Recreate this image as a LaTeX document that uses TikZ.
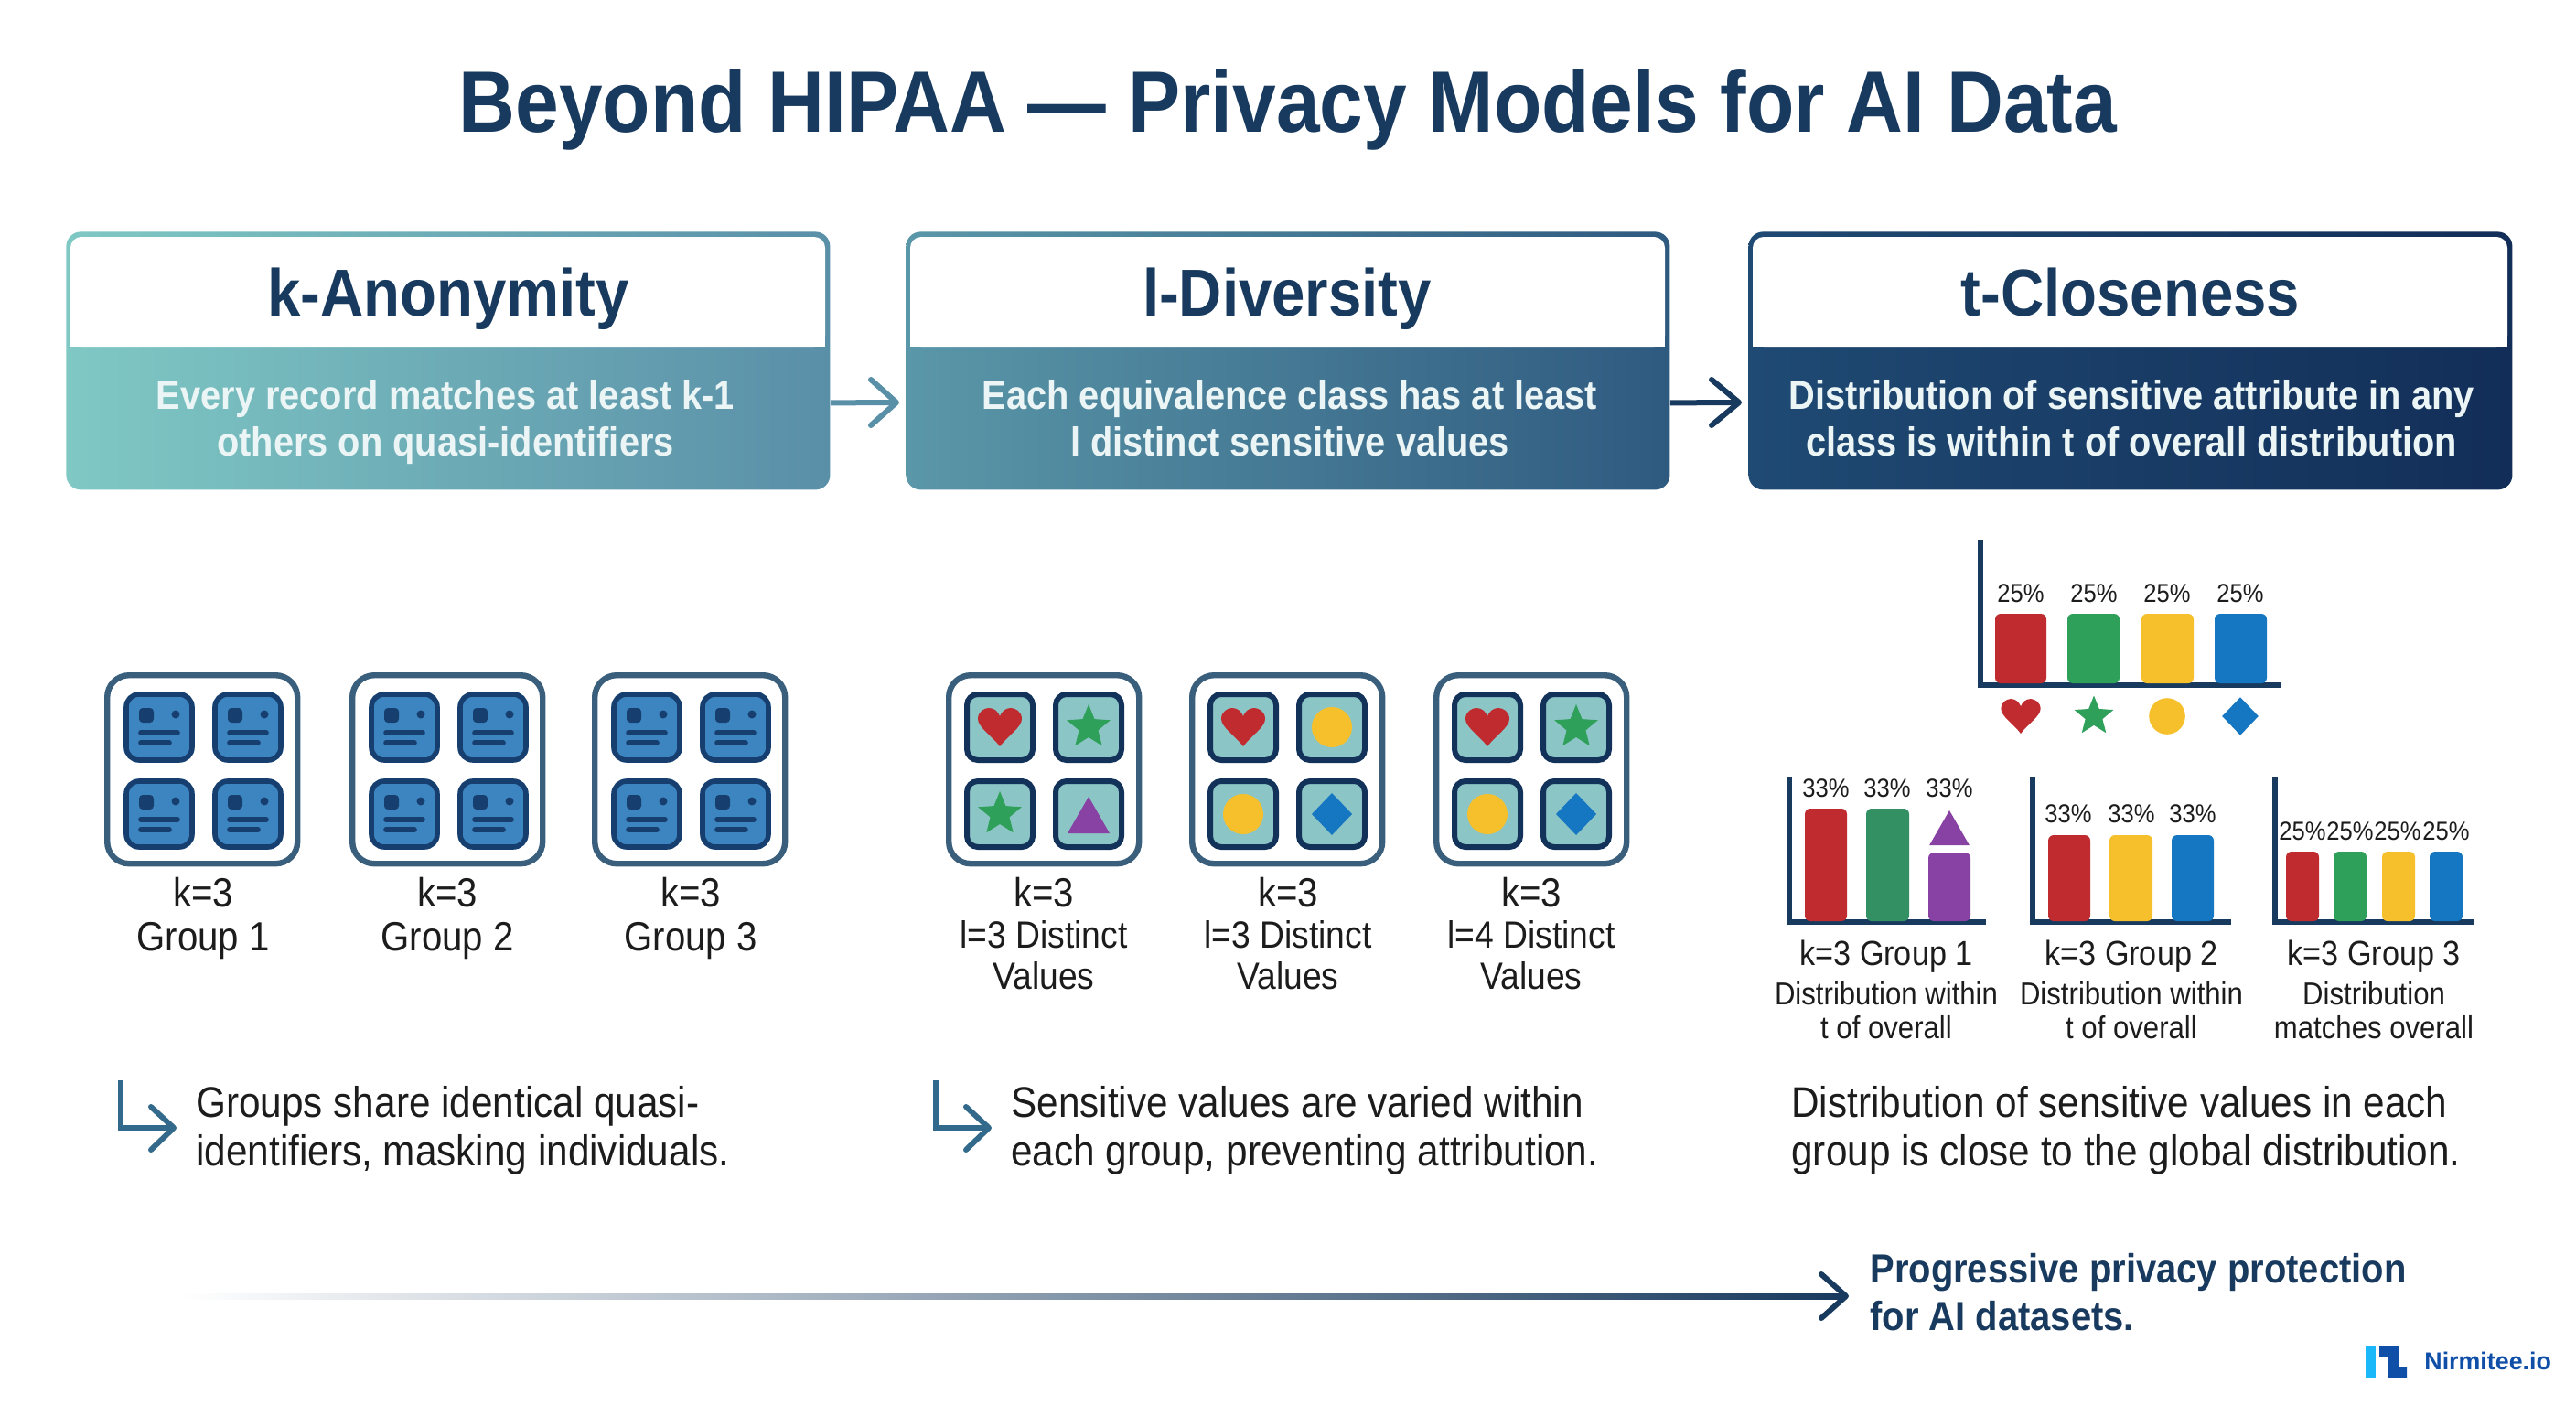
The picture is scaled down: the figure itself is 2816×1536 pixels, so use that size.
\documentclass[tikz,border=0pt]{standalone}
\usepackage{fontspec}
\setmainfont[FakeStretch=0.9]{Liberation Sans}
\newfontfamily\logofont{Liberation Sans}
\usetikzlibrary{positioning}
\definecolor{navy}{HTML}{183A5E}
\definecolor{inkc}{HTML}{1C1C1C}
\definecolor{framec}{HTML}{3A5F7D}
\definecolor{elbowc}{HTML}{336A8C}
\definecolor{cardline}{HTML}{163F70}
\definecolor{cardfill}{HTML}{3D85C0}
\definecolor{tealfill}{HTML}{8CC5C5}
\definecolor{redc}{HTML}{C02B30}
\definecolor{greenc}{HTML}{2FA05A}
\definecolor{yellowc}{HTML}{F6C02D}
\definecolor{bluec}{HTML}{1576C2}
\definecolor{purplec}{HTML}{8742A4}
\definecolor{grada}{HTML}{7FC8C4}
\definecolor{gradb}{HTML}{5A8FA8}
\definecolor{gradc}{HTML}{5A97A8}
\definecolor{gradd}{HTML}{2F5A80}
\definecolor{grade}{HTML}{1F4A73}
\definecolor{gradf}{HTML}{122E58}
\definecolor{logoblue}{HTML}{0F4FA8}
\definecolor{logocyan}{HTML}{1AB8F8}
\tikzset{
  panel/.style={shape=rectangle,rounded corners=8pt,minimum width=417.5pt,minimum height=141pt,anchor=north west},
  paneltitle/.style={anchor=base,text=navy,font=\fontsize{36.3}{37}\selectfont\bfseries},
  panelbody/.style={anchor=base,align=center,text=white!92!teal,font=\fontsize{22.1}{25.5}\selectfont\bfseries},
  groupframe/.style={shape=rectangle,draw=framec,line width=3.2pt,rounded corners=12pt,minimum width=104pt,minimum height=103pt,anchor=north west,fill=white},
  grouplabel/.style={anchor=base,align=center,text=inkc,font=\fontsize{22.3}{23}\selectfont},
  distlabel/.style={grouplabel,font=\fontsize{20.7}{22.5}\selectfont},
  desc/.style={anchor=base west,align=left,inner sep=0pt,text=inkc,font=\fontsize{23.5}{26.5}\selectfont},
  pct/.style={anchor=base,inner sep=0pt,text=inkc,font=\fontsize{14.2}{15}\selectfont},
  chartcap/.style={anchor=base,align=center,text=inkc,font=\fontsize{19}{19}\selectfont},
  capsmall/.style={anchor=base,align=center,text=inkc,font=\fontsize{17.3}{18.5}\selectfont},
  openhead/.style={line width=3pt,line cap=round,line join=round},
  axisline/.style={navy,line width=2.6pt},
  record/.pic={
    \draw[fill=cardfill,draw=cardline,line width=2.8pt,rounded corners=7pt] (2,2) rectangle (74,74);
    \fill[cardline,rounded corners=2pt] (16,17) rectangle (32,33);
    \fill[cardline] (56,24) circle (4.5);
    \draw[cardline,line width=2.8pt,line cap=round] (18,44) -- (58,44);
    \draw[cardline,line width=2.8pt,line cap=round] (18,55) -- (49,55);
  },
  valuecard/.pic={
    \draw[fill=tealfill,draw=cardline!80!black,line width=3pt,rounded corners=6pt] (2,2) rectangle (74,74);
  },
  heart/.pic={
    \fill[redc] (0,21) .. controls (-8,10) and (-24,0) .. (-24,-9) .. controls (-24,-17) and (-17,-21) .. (-12,-21)
      .. controls (-6,-21) and (-2,-17) .. (0,-12) .. controls (2,-17) and (6,-21) .. (12,-21)
      .. controls (17,-21) and (24,-17) .. (24,-9) .. controls (24,0) and (8,10) .. (0,21) -- cycle;
  },
  starmark/.pic={
    \fill[greenc] (-90:25) -- (-54:11) -- (-18:25) -- (18:11) -- (54:25) -- (90:11) -- (126:25) -- (162:11) -- (198:25) -- (234:11) -- cycle;
  },
  dotmark/.pic={\fill[yellowc] (0,0) circle (22);},
  diamondmark/.pic={\fill[bluec] (0,-23) -- (22,0) -- (0,23) -- (-22,0) -- cycle;},
  trianglemark/.pic={\fill[purplec] (0,-20) -- (23,20) -- (-23,20) -- cycle;},
}
\newcommand{\chartbar}[4]{\fill[#1,rounded corners=3pt] (#2,1007) -- (#2,#4) -- (#3,#4) -- (#3,1007) -- cycle;}
\begin{document}
\begin{tikzpicture}[x=0.5pt,y=-0.5pt]
\useasboundingbox (0,0) rectangle (2816,1536);
% title
\node (title) at (1408,145) [anchor=base,text=navy,font=\fontsize{47.6}{48}\selectfont\bfseries] {Beyond HIPAA --- Privacy Models for AI Data};
% panels
\node (kpanel) at (72,253) [panel,left color=grada,right color=gradb] {};
\node (lpanel) at (990,253) [panel,left color=gradc,right color=gradd] {};
\node (tpanel) at (1911,253) [panel,left color=grade,right color=gradf] {};
\foreach \x in {72,990,1911} {
  \fill[white,rounded corners=6pt] (\x+5,259) -- (\x+5,379) -- (\x+830,379) -- (\x+830,259) -- cycle;
  \fill[white] (\x+5,300) rectangle (\x+830,379);
}
\node (ktitle) at (490,345) [paneltitle] {k-Anonymity};
\node (ltitle) at (1407,345) [paneltitle] {l-Diversity};
\node (ttitle) at (2329,345) [paneltitle] {t-Closeness};
% base of a two-line node is its last line
\node (kbody) at (487,498) [panelbody] {Every record matches at least k-1\\others on quasi-identifiers};
\node (lbody) at (1410,498) [panelbody] {Each equivalence class has at least\\l distinct sensitive values};
\node (tbody) at (2330,498) [panelbody] {Distribution of sensitive attribute in any\\class is within t of overall distribution};
\coordinate (karrow) at (980,440);
\coordinate (larrow) at (1901,440);
\draw [gradb,line width=3pt] ([yshift=-23pt]kpanel.east) -- (karrow);
\draw [openhead,gradb] (952,415) -- (karrow) -- (952,465);
\draw [navy,line width=3pt] ([yshift=-23pt]lpanel.east) -- (larrow);
\draw [openhead,navy] (1871,415) -- (larrow) -- (1871,465);
% groups
\foreach \n/\x in {1/114,2/382,3/647} {
  \node (kframe\n) at (\x,735) [groupframe] {};
  \foreach \cx/\cy in {22/22,119/22,22/117,119/117}
    \pic at (\x+\cx,735+\cy) {record};
}
\foreach \n/\x in {1/1034,2/1300,3/1567} {
  \node (lframe\n) at (\x,735) [groupframe] {};
  \foreach \cx/\cy in {21/22,118/22,21/117,118/117}
    \pic at (\x+\cx,735+\cy) {valuecard};
}
\pic at (1093,795) {heart};
\pic at (1190,795) {starmark};
\pic at (1093,890) {starmark};
\pic at (1190,891) {trianglemark};
\pic at (1359,795) {heart};
\pic at (1456,795) {dotmark};
\pic at (1359,890) {dotmark};
\pic at (1456,890) {diamondmark};
\pic at (1626,795) {heart};
\pic at (1723,795) {starmark};
\pic at (1626,890) {dotmark};
\pic at (1723,890) {diamondmark};
\node (klab1) at (222,991) [grouplabel] {k=3};
\node (klab2) at (489,991) [grouplabel] {k=3};
\node (klab3) at (755,991) [grouplabel] {k=3};
\node (kgrp1) at (222,1039) [grouplabel] {Group 1};
\node (kgrp2) at (489,1039) [grouplabel] {Group 2};
\node (kgrp3) at (755,1039) [grouplabel] {Group 3};
\node (llab1) at (1141,991) [grouplabel] {k=3};
\node (llab2) at (1408,991) [grouplabel] {k=3};
\node (llab3) at (1674,991) [grouplabel] {k=3};
\node (ldist1) at (1141,1081) [distlabel] {l=3 Distinct\\Values};
\node (ldist2) at (1408,1081) [distlabel] {l=3 Distinct\\Values};
\node (ldist3) at (1674,1081) [distlabel] {l=4 Distinct\\Values};
% top chart
\draw [axisline] (2165,590) -- (2165,749) -- (2494,749);
\fill[redc,rounded corners=3pt] (2181,747) -- (2181,671) -- (2237,671) -- (2237,747) -- cycle;
\fill[greenc,rounded corners=3pt] (2260,747) -- (2260,671) -- (2317,671) -- (2317,747) -- cycle;
\fill[yellowc,rounded corners=3pt] (2341,747) -- (2341,671) -- (2398,671) -- (2398,747) -- cycle;
\fill[bluec,rounded corners=3pt] (2421,747) -- (2421,671) -- (2478,671) -- (2478,747) -- cycle;
\foreach \n/\x in {1/2209,2/2289,3/2369,4/2449}
  \node (toppct\n) at (\x,658) [pct] {25\%};
\pic[scale=0.9] at (2209,783) {heart};
\pic[scale=0.9] at (2289,783) {starmark};
\pic[scale=0.9] at (2369,783) {dotmark};
\pic[scale=0.9] at (2449,783) {diamondmark};
% group charts
\draw [axisline] (1956,849) -- (1956,1008) -- (2171,1008);
\draw [axisline] (2222,849) -- (2222,1008) -- (2439,1008);
\draw [axisline] (2487,849) -- (2487,1008) -- (2704,1008);
\chartbar{redc}{1973}{2019}{884}
\chartbar{greenc!75!framec}{2040}{2087}{884}
\chartbar{purplec}{2108}{2154}{932}
\pic[scale=0.95] at (2131,905) {trianglemark};
\chartbar{redc}{2239}{2285}{913}
\chartbar{yellowc}{2306}{2353}{913}
\chartbar{bluec}{2374}{2420}{913}
\chartbar{redc}{2499}{2535}{931}
\chartbar{greenc}{2551}{2587}{931}
\chartbar{yellowc}{2604}{2640}{931}
\chartbar{bluec}{2656}{2692}{931}
\foreach \n/\x in {1/1996,2/2063,3/2131}
  \node (apct\n) at (\x,871) [pct] {33\%};
\foreach \n/\x in {1/2261,2/2330,3/2397}
  \node (bpct\n) at (\x,899) [pct] {33\%};
\foreach \n/\x in {1/2517,2/2569,3/2621,4/2674}
  \node (cpct\n) at (\x,918) [pct] {25\%};
\node (acap) at (2062,1055) [chartcap] {k=3 Group 1};
\node (bcap) at (2330,1055) [chartcap] {k=3 Group 2};
\node (ccap) at (2595,1055) [chartcap] {k=3 Group 3};
\node (asub) at (2062,1135) [capsmall] {Distribution within\\t of overall};
\node (bsub) at (2330,1135) [capsmall] {Distribution within\\t of overall};
\node (csub) at (2595,1135) [capsmall] {Distribution\\matches overall};
% descriptions
\coordinate (ktop) at (132,1181);
\coordinate (kbend) at (132,1233);
\coordinate (ktip) at (190,1233);
\draw [elbowc,line width=3pt] (ktop) -- (kbend) -- (ktip);
\draw [openhead,elbowc] (165,1210) -- (ktip) -- (165,1257);
\coordinate (ltop) at (1023,1181);
\coordinate (lbend) at (1023,1233);
\coordinate (ltip) at (1081,1233);
\draw [elbowc,line width=3pt] (ltop) -- (lbend) -- (ltip);
\draw [openhead,elbowc] (1056,1210) -- (ltip) -- (1056,1257);
\node (kdesc) at (214,1274) [desc] {Groups share identical quasi-\\identifiers, masking individuals.};
\node (ldesc) at (1105,1274) [desc] {Sensitive values are varied within\\each group, preventing attribution.};
\node (tdesc) at (1958,1274) [desc] {Distribution of sensitive values in each\\group is close to the global distribution.};
% progress
\coordinate (progtip) at (2018,1417);
\fill[left color=white,right color=navy] (198,1414) rectangle (2016,1420);
\draw [openhead,navy] (1991,1393) -- (progtip) -- (1991,1441);
\node (prog) at (2044,1454) [desc,text=navy,font=\fontsize{22.2}{26}\selectfont\bfseries] {Progressive privacy protection\\for AI datasets.};
% logo
\fill[logocyan] (2586,1472) rectangle (2597,1506);
\fill[logoblue] (2601,1472) -- (2622,1472) -- (2622,1495) -- (2631,1495) -- (2631,1506) -- (2610,1506) -- (2610,1483) -- (2601,1483) -- cycle;
\node (logo) at (2650,1497) [anchor=base west,inner sep=0pt,text=logoblue,font=\logofont\fontsize{13.4}{14}\selectfont\bfseries] {Nirmitee.io};
\end{tikzpicture}
\end{document}
